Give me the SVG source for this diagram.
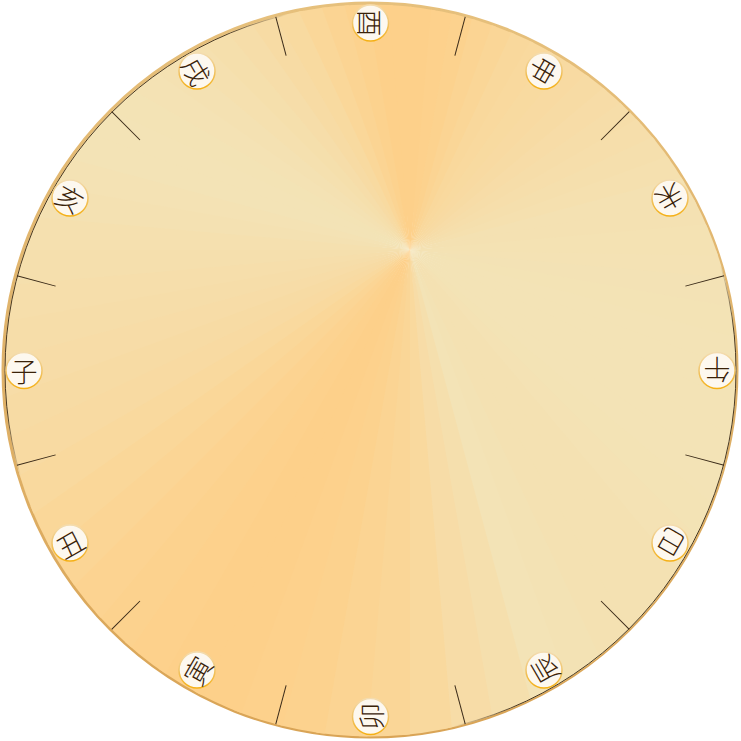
<svg xmlns="http://www.w3.org/2000/svg" xmlns:xlink="http://www.w3.org/1999/xlink" width="741" height="741" viewBox="0 0 741 741">
<style>
.tick{stroke:#3a2a18;stroke-width:1;}
.lc{fill:#fdf8ef;stroke:url(#lg);stroke-width:1.5;}
.lt{font-family:"Noto Sans CJK SC","Noto Sans CJK JP",sans-serif;font-size:27px;font-weight:300;fill:#3a2208;text-anchor:middle;dominant-baseline:central;}
</style>
<defs>
<clipPath id="cc"><circle cx="370.5" cy="370.5" r="366"/></clipPath>
<path id="w" d="M0 0L720 0L716.1 75.3Z"/>
<linearGradient id="lg" x1="0" y1="0" x2="0" y2="1">
<stop offset="0" stop-color="#f3dcb0"/>
<stop offset="0.5" stop-color="#f0c46a"/>
<stop offset="1" stop-color="#f5b014"/>
</linearGradient>
<linearGradient id="rg" x1="0" y1="0" x2="0" y2="1">
<stop offset="0" stop-color="#e6c07c"/>
<stop offset="1" stop-color="#d9a456"/>
</linearGradient>
<linearGradient id="dk" gradientUnits="userSpaceOnUse" x1="689.2" y1="554.5" x2="51.8" y2="186.5">
<stop offset="0" stop-color="#2a1a08" stop-opacity="0.85"/>
<stop offset="0.1" stop-color="#2a1a08" stop-opacity="0.85"/>
<stop offset="0.16" stop-color="#2a1a08" stop-opacity="0"/>
<stop offset="0.84" stop-color="#2a1a08" stop-opacity="0"/>
<stop offset="0.9" stop-color="#2a1a08" stop-opacity="0.85"/>
<stop offset="1" stop-color="#2a1a08" stop-opacity="0.85"/>
</linearGradient>
</defs>
<g id="dial">
<circle cx="370" cy="370" r="366.5" fill="none" stroke="url(#rg)" stroke-width="4"/>
<g clip-path="url(#cc)">
<g transform="translate(410 250)">
<use href="#w" transform="rotate(0)" fill="#f4e2b4"/>
<use href="#w" transform="rotate(5)" fill="#f3e2b5"/>
<use href="#w" transform="rotate(10)" fill="#f3e3b5"/>
<use href="#w" transform="rotate(15)" fill="#f3e3b6"/>
<use href="#w" transform="rotate(20)" fill="#f3e3b6"/>
<use href="#w" transform="rotate(25)" fill="#f3e3b6"/>
<use href="#w" transform="rotate(30)" fill="#f3e3b6"/>
<use href="#w" transform="rotate(35)" fill="#f3e3b6"/>
<use href="#w" transform="rotate(40)" fill="#f3e3b5"/>
<use href="#w" transform="rotate(45)" fill="#f4e2b4"/>
<use href="#w" transform="rotate(50)" fill="#f4e1b2"/>
<use href="#w" transform="rotate(55)" fill="#f4e1b2"/>
<use href="#w" transform="rotate(60)" fill="#f4e1b2"/>
<use href="#w" transform="rotate(65)" fill="#f3e2b4"/>
<use href="#w" transform="rotate(70)" fill="#f3e3b6"/>
<use href="#w" transform="rotate(75)" fill="#f5dfad"/>
<use href="#w" transform="rotate(80)" fill="#f7dca7"/>
<use href="#w" transform="rotate(85)" fill="#f9d99e"/>
<use href="#w" transform="rotate(90)" fill="#fad697"/>
<use href="#w" transform="rotate(95)" fill="#fbd493"/>
<use href="#w" transform="rotate(100)" fill="#fcd28e"/>
<use href="#w" transform="rotate(105)" fill="#fdd18c"/>
<use href="#w" transform="rotate(110)" fill="#fdd08a"/>
<use href="#w" transform="rotate(115)" fill="#fdd08a"/>
<use href="#w" transform="rotate(120)" fill="#fdd18c"/>
<use href="#w" transform="rotate(125)" fill="#fcd28e"/>
<use href="#w" transform="rotate(130)" fill="#fcd391"/>
<use href="#w" transform="rotate(135)" fill="#fbd595"/>
<use href="#w" transform="rotate(140)" fill="#fad799"/>
<use href="#w" transform="rotate(145)" fill="#f9d99e"/>
<use href="#w" transform="rotate(150)" fill="#f8daa2"/>
<use href="#w" transform="rotate(155)" fill="#f7dba4"/>
<use href="#w" transform="rotate(160)" fill="#f7dca7"/>
<use href="#w" transform="rotate(165)" fill="#f6dda9"/>
<use href="#w" transform="rotate(170)" fill="#f6deab"/>
<use href="#w" transform="rotate(175)" fill="#f5dfad"/>
<use href="#w" transform="rotate(180)" fill="#f5e0af"/>
<use href="#w" transform="rotate(185)" fill="#f4e1b2"/>
<use href="#w" transform="rotate(190)" fill="#f4e2b4"/>
<use href="#w" transform="rotate(195)" fill="#f3e3b6"/>
<use href="#w" transform="rotate(200)" fill="#f3e3b6"/>
<use href="#w" transform="rotate(205)" fill="#f3e3b5"/>
<use href="#w" transform="rotate(210)" fill="#f4e2b4"/>
<use href="#w" transform="rotate(215)" fill="#f4e1b2"/>
<use href="#w" transform="rotate(220)" fill="#f5e0af"/>
<use href="#w" transform="rotate(225)" fill="#f5dfac"/>
<use href="#w" transform="rotate(230)" fill="#f6dda9"/>
<use href="#w" transform="rotate(235)" fill="#f7dba4"/>
<use href="#w" transform="rotate(240)" fill="#f8daa0"/>
<use href="#w" transform="rotate(245)" fill="#fad799"/>
<use href="#w" transform="rotate(250)" fill="#fbd493"/>
<use href="#w" transform="rotate(255)" fill="#fcd28e"/>
<use href="#w" transform="rotate(260)" fill="#fdd08a"/>
<use href="#w" transform="rotate(265)" fill="#fdd08a"/>
<use href="#w" transform="rotate(270)" fill="#fdd08a"/>
<use href="#w" transform="rotate(275)" fill="#fdd18c"/>
<use href="#w" transform="rotate(280)" fill="#fcd28e"/>
<use href="#w" transform="rotate(285)" fill="#fbd493"/>
<use href="#w" transform="rotate(290)" fill="#fad697"/>
<use href="#w" transform="rotate(295)" fill="#f9d89c"/>
<use href="#w" transform="rotate(300)" fill="#f9d99e"/>
<use href="#w" transform="rotate(305)" fill="#f8daa0"/>
<use href="#w" transform="rotate(310)" fill="#f8daa2"/>
<use href="#w" transform="rotate(315)" fill="#f7dba4"/>
<use href="#w" transform="rotate(320)" fill="#f7dca7"/>
<use href="#w" transform="rotate(325)" fill="#f6dda9"/>
<use href="#w" transform="rotate(330)" fill="#f6deab"/>
<use href="#w" transform="rotate(335)" fill="#f5dfad"/>
<use href="#w" transform="rotate(340)" fill="#f5e0af"/>
<use href="#w" transform="rotate(345)" fill="#f4e1b2"/>
<use href="#w" transform="rotate(350)" fill="#f4e1b2"/>
<use href="#w" transform="rotate(355)" fill="#f4e2b3"/>
</g>
</g>
<circle cx="370.5" cy="370.5" r="365.5" fill="none" stroke="url(#dk)" stroke-width="1"/>
</g>
<g id="ticks" transform="translate(370.5 370.5)">
<line class="tick" x1="326" y1="0" x2="366" y2="0" transform="rotate(15)"/>
<line class="tick" x1="326" y1="0" x2="366" y2="0" transform="rotate(45)"/>
<line class="tick" x1="326" y1="0" x2="366" y2="0" transform="rotate(75)"/>
<line class="tick" x1="326" y1="0" x2="366" y2="0" transform="rotate(105)"/>
<line class="tick" x1="326" y1="0" x2="366" y2="0" transform="rotate(135)"/>
<line class="tick" x1="326" y1="0" x2="366" y2="0" transform="rotate(165)"/>
<line class="tick" x1="326" y1="0" x2="366" y2="0" transform="rotate(195)"/>
<line class="tick" x1="326" y1="0" x2="366" y2="0" transform="rotate(225)"/>
<line class="tick" x1="326" y1="0" x2="366" y2="0" transform="rotate(255)"/>
<line class="tick" x1="326" y1="0" x2="366" y2="0" transform="rotate(285)"/>
<line class="tick" x1="326" y1="0" x2="366" y2="0" transform="rotate(315)"/>
<line class="tick" x1="326" y1="0" x2="366" y2="0" transform="rotate(345)"/>
</g>
<g id="zi"><circle class="lc" cx="24" cy="370.5" r="18"/><text class="lt" transform="translate(24 370.5)">子</text></g>
<g id="chou"><circle class="lc" cx="70" cy="543" r="18"/><text class="lt" transform="translate(70 543) rotate(-30)">丑</text></g>
<g id="yin"><circle class="lc" cx="197" cy="670" r="18"/><text class="lt" transform="translate(197 670) rotate(-60)">寅</text></g>
<g id="mao"><circle class="lc" cx="370.5" cy="716.5" r="18"/><text class="lt" transform="translate(370.5 716.5) rotate(-90)">卯</text></g>
<g id="chen"><circle class="lc" cx="544" cy="670" r="18"/><text class="lt" transform="translate(544 670) rotate(-120)">辰</text></g>
<g id="si"><circle class="lc" cx="670" cy="543" r="18"/><text class="lt" transform="translate(670 543) rotate(-150)">巳</text></g>
<g id="wu"><circle class="lc" cx="717" cy="370.5" r="18"/><text class="lt" transform="translate(717 370.5) rotate(180)">午</text></g>
<g id="wei"><circle class="lc" cx="670" cy="198" r="18"/><text class="lt" transform="translate(670 198) rotate(150)">未</text></g>
<g id="shen"><circle class="lc" cx="544" cy="71" r="18"/><text class="lt" transform="translate(544 71) rotate(120)">申</text></g>
<g id="you"><circle class="lc" cx="370.5" cy="23" r="18"/><text class="lt" transform="translate(370.5 23) rotate(90)">酉</text></g>
<g id="xu"><circle class="lc" cx="197" cy="71" r="18"/><text class="lt" transform="translate(197 71) rotate(60)">戌</text></g>
<g id="hai"><circle class="lc" cx="70" cy="198" r="18"/><text class="lt" transform="translate(70 198) rotate(30)">亥</text></g>
</svg>
